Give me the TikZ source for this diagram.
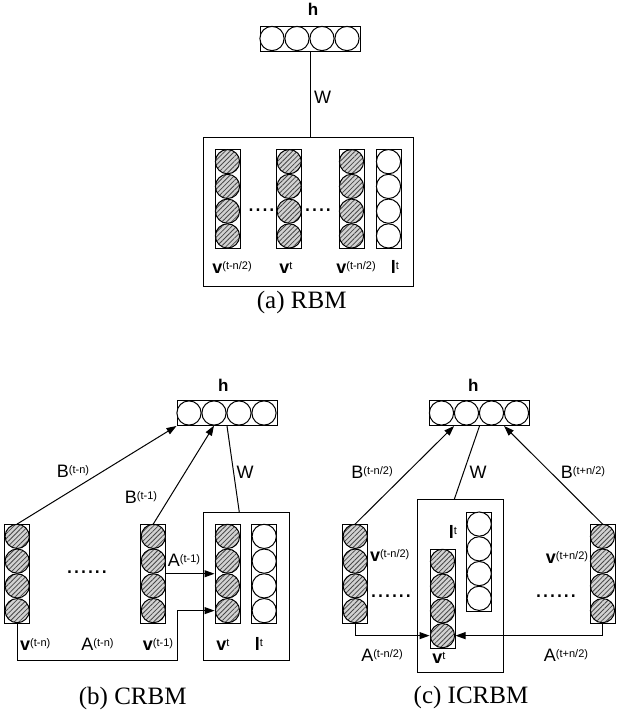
\documentclass[tikz,border=0pt]{standalone}
\usepackage{fontspec}
\setmainfont{Liberation Sans}
\newfontfamily\capfont{Liberation Serif}
\usetikzlibrary{arrows.meta, calc, patterns.meta}

\tikzset{
  cell/.style={circle, draw, line width=1pt, minimum size=24.2pt, inner sep=0pt, fill=white},
  hcell/.style={circle, draw, line width=1pt, minimum size=24.2pt, inner sep=0pt,
    preaction={fill=gray!35}, pattern={Lines[angle=45,distance=3.4pt,line width=0.8pt]},
    pattern color=gray!55!black},
  colbox/.style={draw, line width=1pt, minimum width=25pt, minimum height=99pt, inner sep=0pt, fill=white},
  rowbox/.style={draw, line width=1pt, minimum width=100pt, minimum height=25pt, inner sep=0pt, fill=white},
  panel/.style={draw, line width=1pt, inner sep=0pt, anchor=north west},
  lbl/.style={font=\fontsize{18}{20}\selectfont, inner sep=0pt, anchor=base},
  caption/.style={font=\capfont\fontsize{25}{28}\selectfont, inner sep=0pt, anchor=base},
  dots/.style={font=\fontsize{25}{25}\selectfont, inner sep=0pt},
  wire/.style={line width=1pt},
  arr/.style={wire, -{Triangle[length=10pt,width=7pt]}}
}

% superscript of the labels
\newcommand{\upx}[1]{\raisebox{4pt}{\fontsize{11}{11}\selectfont #1}}
% vertical layer of four units: name, x, top, unit style
\newcommand{\vlayer}[4]{%
  \node[colbox, anchor=north] (#1) at (#2,#3) {};
  \foreach \k in {1,...,4}
    \node[#4] (#1-\k) at ($(#1.north)+(0,{12.375+24.75*(\k-1)})$) {};
}
% hidden layer of four units: name, x, y
\newcommand{\hlayer}[3]{%
  \node[rowbox] (#1) at (#2,#3) {};
  \foreach \k in {1,...,4}
    \node[cell] (#1-\k) at ($(#1.west)+({12.5+25*(\k-1)},0)$) {};
}

\begin{document}
\begin{tikzpicture}[x=1pt, y=-1pt]
    \useasboundingbox (0,0) rectangle (631,713);

    % (a) RBM
    \hlayer{hA}{310}{38.5}
    \node[lbl, font=\fontsize{17}{18}\selectfont\bfseries] (hAlab) at (313,15) {h};
    \node[panel, minimum width=210.6pt, minimum height=149pt] (rbm) at (202.7,136.7) {};
    \draw[wire] (hA.south) -- (hA.south |- rbm.north);
    \node[lbl] (wA) at (322.5,103.3) {W};
    \vlayer{vAa}{227.5}{149.3}{hcell}
    \vlayer{vAb}{289.2}{149.3}{hcell}
    \vlayer{vAc}{351.5}{149.3}{hcell}
    \vlayer{lA}{388.5}{149.3}{cell}
    \node[dots] (dAa) at (261.5,210) {....};
    \node[dots] (dAb) at (318,210) {....};
    \node[lbl] (vAalab) at (232,273.5) {\textbf{v}\upx{(t-n/2)}};
    \node[lbl] (vAblab) at (286,273.5) {\textbf{v}\upx{t}};
    \node[lbl] (vAclab) at (356,273.5) {\textbf{v}\upx{(t-n/2)}};
    \node[lbl] (lAlab) at (395,273.5) {\textbf{l}\upx{t}};
    \node[caption] (capA) at (301.7,308.3) {(a) RBM};

    % (b) CRBM
    \hlayer{hB}{227}{413}
    \node[lbl, font=\fontsize{17}{18}\selectfont\bfseries] (hBlab) at (223.3,391.7) {h};
    \node[panel, minimum width=86.6pt, minimum height=147.7pt] (crbm) at (202.7,512.3) {};
    \vlayer{vBa}{17.2}{524}{hcell}
    \vlayer{vBb}{153.3}{524}{hcell}
    \vlayer{vBt}{227.5}{524}{hcell}
    \vlayer{lB}{264.2}{524}{cell}
    \coordinate (aturn) at (177.3,660);
    \draw[arr] (vBa.north) -- (hB.south west);
    \draw[arr] (vBb.north) -- (hB-2.south);
    \draw[wire] (hB.south) -- ($(crbm.north west)+(36.6,0)$);
    \draw[arr] (vBb-2.south -| vBb.east) -- (vBb-2.south -| vBt.west);
    \draw[arr] (vBa.south) |- (aturn) |- (vBt-4.center -| vBt.west);
    \node[lbl] (bBa) at (73,477.3) {B\upx{(t-n)}};
    \node[lbl] (bBb) at (141,503.3) {B\upx{(t-1)}};
    \node[lbl] (wB) at (245,478.3) {W};
    \node[lbl] (aBb) at (184,566.7) {A\upx{(t-1)}};
    \node[dots] (dB) at (87,572) {......};
    \node[lbl] (vBalab) at (35.3,650) {\textbf{v}\upx{(t-n)}};
    \node[lbl] (aBa) at (97.5,650) {A\upx{(t-n)}};
    \node[lbl] (vBblab) at (158,650) {\textbf{v}\upx{(t-1)}};
    \node[lbl] (vBtlab) at (223,650) {\textbf{v}\upx{t}};
    \node[lbl] (lBlab) at (259,650) {\textbf{l}\upx{t}};
    \node[caption] (capB) at (132.7,704) {(b) CRBM};

    % (c) ICRBM
    \hlayer{hC}{479.5}{413}
    \node[lbl, font=\fontsize{17}{18}\selectfont\bfseries] (hClab) at (473.3,391.7) {h};
    \node[panel, minimum width=86.6pt, minimum height=173pt] (icrbm) at (416.7,499.3) {};
    \vlayer{vCa}{355.2}{524}{hcell}
    \vlayer{vCb}{602.5}{524}{hcell}
    \vlayer{vCt}{442.5}{549}{hcell}
    \vlayer{lC}{479.2}{511.7}{cell}
    \draw[arr] (vCa.north) -- (hC-1.east |- hC.south);
    \draw[arr] (vCb.north) -- (hC-3.east |- hC.south);
    \draw[wire] (hC.south) -- ($(icrbm.north west)+(37.6,0)$);
    \draw[arr] (vCa.south) |- (vCt-4.center -| vCt.west);
    \draw[arr] (vCb.south) |- (vCt-4.center -| vCt.east);
    \node[lbl] (bCa) at (372,478.3) {B\upx{(t-n/2)}};
    \node[lbl] (wC) at (478,478.3) {W};
    \node[lbl] (bCb) at (583,478.3) {B\upx{(t+n/2)}};
    \node[lbl] (lClab) at (453,538.3) {\textbf{l}\upx{t}};
    \node[lbl] (vCalab) at (389.7,561.7) {\textbf{v}\upx{(t-n/2)}};
    \node[lbl] (vCblab) at (567,563) {\textbf{v}\upx{(t+n/2)}};
    \node[dots] (dCa) at (391,596) {......};
    \node[dots] (dCb) at (556,596) {......};
    \node[lbl] (aCa) at (382,661.7) {A\upx{(t-n/2)}};
    \node[lbl] (aCb) at (566,661.7) {A\upx{(t+n/2)}};
    \node[lbl] (vCtlab) at (439,663.3) {\textbf{v}\upx{t}};
    \node[caption] (capC) at (471,703.3) {(c) ICRBM};
\end{tikzpicture}
\end{document}
